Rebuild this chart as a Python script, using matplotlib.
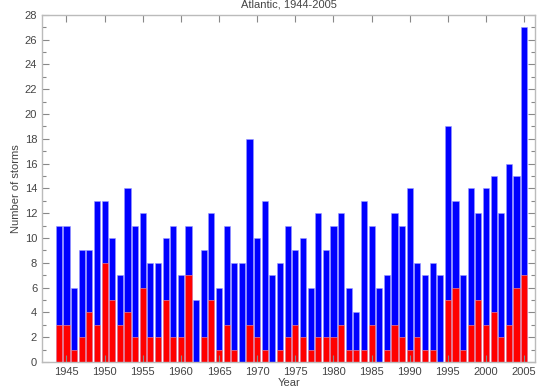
import numpy as np
import matplotlib
matplotlib.use("Agg")
import matplotlib.pyplot as plt
from matplotlib.ticker import MultipleLocator

# Atlantic storms per year, 1944-2005
years = np.arange(1944, 2006)
total = [11, 11, 6, 9, 9, 13, 13, 10, 7, 14,
         11, 12, 8, 8, 10, 11, 7, 11, 5, 9,
         12, 6, 11, 8, 8, 18, 10, 13, 7, 8,
         11, 9, 10, 6, 12, 9, 11, 12, 6, 4,
         13, 11, 6, 7, 12, 11, 14, 8, 7, 8,
         7, 19, 13, 7, 14, 12, 14, 15, 12, 16,
         15, 27]
major = [3, 3, 1, 2, 4, 3, 8, 5, 3, 4,
         2, 6, 2, 2, 5, 2, 2, 7, 0, 2,
         5, 1, 3, 1, 0, 3, 2, 1, 0, 1,
         2, 3, 2, 1, 2, 2, 2, 3, 1, 1,
         1, 3, 0, 1, 3, 2, 1, 2, 1, 1,
         0, 5, 6, 1, 3, 5, 3, 4, 2, 3,
         6, 7]

plt.rcParams['font.family'] = ['Liberation Sans', 'DejaVu Sans']

fig = plt.figure(figsize=(5.39, 3.91), dpi=100)
ax = fig.add_axes([0.078, 0.074, 0.915, 0.888])

ax.bar(years, total, width=0.8, color='#0000ff', edgecolor='#9999ff', linewidth=0.4)
ax.bar(years, major, width=0.8, color='#ff0000', edgecolor='#ff9999', linewidth=0.4)

ax.set_xlim(1941.8, 2006.45)
ax.set_ylim(0, 28)
ax.xaxis.set_major_locator(MultipleLocator(5))
ax.yaxis.set_major_locator(MultipleLocator(2))
ax.yaxis.set_minor_locator(MultipleLocator(1))
ax.tick_params(which='both', direction='in', top=True, right=True,
               colors='#888888', labelcolor='#444444', labelsize=8)
ax.tick_params(which='major', length=5, width=0.8)
ax.tick_params(which='minor', length=3, width=0.8)
for s in ax.spines.values():
    s.set_color('#bbbbbb')
    s.set_linewidth(1)

ax.set_xlabel("Year", fontsize=8, color='#444444', labelpad=1)
ax.set_ylabel("Number of storms", fontsize=8, color='#444444', labelpad=3)
ax.set_title("Atlantic, 1944-2005", fontsize=8, color='#444444', pad=5)

fig.savefig("out.png", dpi=100)
